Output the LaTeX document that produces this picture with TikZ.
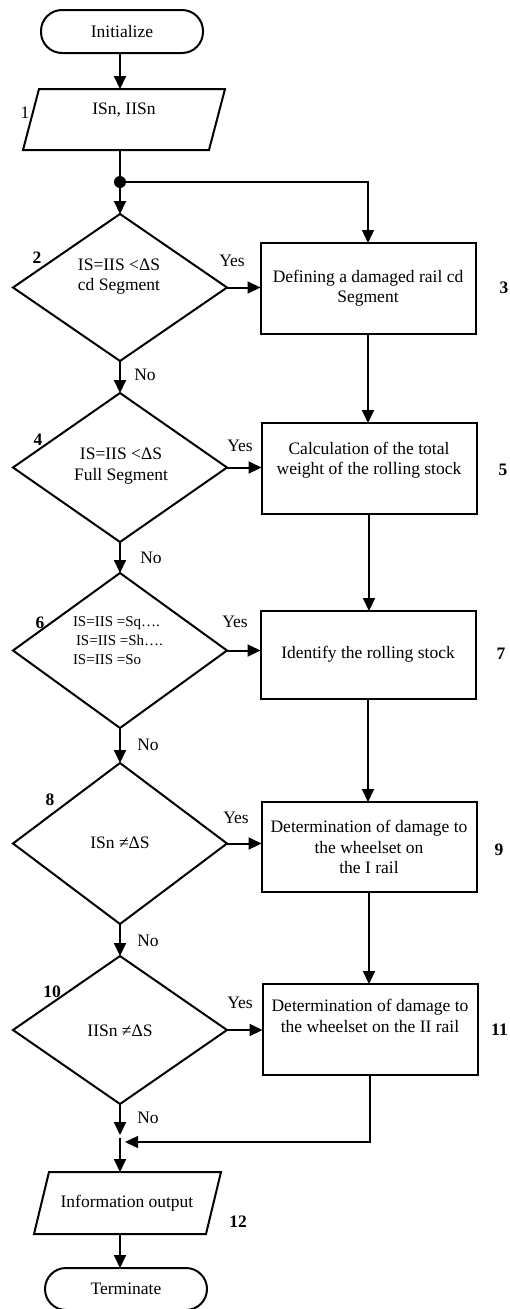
\documentclass[tikz,border=0pt]{standalone}
\usepackage{fontspec}
\setmainfont{Liberation Serif}
\usetikzlibrary{arrows.meta,calc,shapes.geometric}
\begin{document}
\begin{tikzpicture}[x=1pt,y=-1pt,
  every node/.style={font=\fontsize{17.5}{20.5}\selectfont, inner sep=0pt, outer sep=0pt},
  shapeborder/.style={draw, line width=2pt},
  boxnode/.style={shapeborder, rectangle, minimum width=215pt, minimum height=#1},
  decnode/.style={shapeborder, diamond, minimum width=214pt, minimum height=#1},
  termnode/.style={shapeborder, rectangle, rounded corners=21pt, minimum width=162pt, minimum height=#1},
  paranode/.style={rectangle, minimum width=#1},
  txt/.style={align=center},
  numlab/.style={font=\fontsize{17.5}{20.5}\selectfont\bfseries},
  flow/.style={line width=2pt, -{Triangle[length=13pt,width=12pt]}},
  thinflow/.style={line width=1.3pt, -{Triangle[length=13pt,width=12pt]}},
  thinline/.style={line width=1.3pt}
]
\useasboundingbox (0,0) rectangle (509,1309);

% start
\node[termnode=43pt] (init) at (122,31.5) {Initialize};

% input parallelogram
\node[paranode=202pt, minimum height=61pt] (p1) at (124,119.5) {};
\draw[shapeborder] ($(p1.north west)+(16,0)$) -- (p1.north east) -- ($(p1.south east)+(-16,0)$) -- (p1.south west) -- cycle;
\node (p1t) at (124,110) {ISn, IISn};
\node (n1) at (25,113) {1};

\node[circle, fill, minimum size=12pt] (dot) at (120,182) {};

% decisions
\node[decnode=147pt] (d2) at (120,287.5) {};
\node[txt] (d2t) at (119,276.5) {IS=IIS <ΔS\\cd Segment};
\node[numlab] (n2) at (37,258) {2};
\node (y2) at (232,261) {Yes};
\node (no2) at (145,375) {No};

\node[decnode=149pt] (d4) at (120,467.5) {};
\node[txt] (d4t) at (121,466) {IS=IIS <ΔS\\Full Segment};
\node[numlab] (n4) at (38,440) {4};
\node (y4) at (240,446) {Yes};
\node (no4) at (151,558) {No};

\node[decnode=155pt] (d6) at (120,650.5) {};
\node[align=left, anchor=west, font=\fontsize{15}{19}\selectfont] (d6t) at (73,641) {IS=IIS =Sq….\\\hspace*{3pt}IS=IIS =Sh….\\IS=IIS =So};
\node[numlab] (n6) at (40,623) {6};
\node (y6) at (235,622) {Yes};
\node (no6) at (148,745) {No};

\node[decnode=161pt] (d8) at (120,843.5) {};
\node (d8t) at (120,843) {ISn ≠ΔS};
\node[numlab] (n8) at (50,800) {8};
\node (y8) at (236,818) {Yes};
\node (no8) at (148,941) {No};

\node[decnode=148pt] (d10) at (120,1030) {};
\node (d10t) at (120,1031) {IISn ≠ΔS};
\node[numlab] (n10) at (52,992) {10};
\node (y10) at (240,1003) {Yes};
\node (no10) at (148,1118) {No};

% process boxes
\node[boxnode=91pt] (b3) at (368,288.5) {};
\node[txt] (b3t) at (368,288) {Defining a damaged rail cd\\Segment};
\node[numlab] (n3) at (504,288) {3};

\node[boxnode=91pt] (b5) at (369,468.5) {};
\node[txt] (b5t) at (369,460) {Calculation of the total\\weight of the rolling stock};
\node[numlab] (n5) at (503,470) {5};

\node[boxnode=88pt] (b7) at (368,655) {};
\node[txt] (b7t) at (368,654) {Identify the rolling stock};
\node[numlab] (n7) at (501,654) {7};

\node[boxnode=90pt] (b9) at (369,847) {};
\node[txt] (b9t) at (369,847) {Determination of damage to\\the wheelset on\\the I rail};
\node[numlab] (n9) at (499,850) {9};

\node[boxnode=91pt] (b11) at (370,1029.5) {};
\node[txt] (b11t) at (370,1016) {Determination of damage to\\the wheelset on the II rail};
\node[numlab] (n11) at (499.5,1030) {11};

% output parallelogram
\node[paranode=187pt, minimum height=62pt] (p12) at (127.5,1203) {};
\draw[shapeborder] ($(p12.north west)+(15,0)$) -- (p12.north east) -- ($(p12.south east)+(-15,0)$) -- (p12.south west) -- cycle;
\node (p12t) at (127,1203) {Information output};
\node[numlab] (n12) at (238,1222) {12};

\node[termnode=42pt] (term) at (126,1289) {Terminate};

% junction coordinates
\coordinate (j1) at (120,1135);
\coordinate (j2) at (125,1142);
\coordinate (j3) at (120,1138);

% connectors
\draw[flow] (init.south -| dot) -- (p1.north -| dot);
\draw[thinline] (p1.south -| dot) -- (dot);
\draw[flow] (dot) -- (d2.north);
\draw[thinflow] (dot) -- (dot -| b3.north) -- (b3.north);

\draw[flow] (d2.east) -- (d2.east -| b3.west);
\draw[flow] (d4.east) -- (d4.east -| b5.west);
\draw[flow] (d6.east) -- (d6.east -| b7.west);
\draw[flow] (d8.east) -- (d8.east -| b9.west);
\draw[flow] (d10.east) -- (d10.east -| b11.west);

\draw[flow] (d2.south) -- (d4.north);
\draw[flow] (d4.south) -- (d6.north);
\draw[flow] (d6.south) -- (d8.north);
\draw[flow] (d8.south) -- (d10.north);
\draw[flow] (d10.south) -- (j1);

\draw[flow] (b3.south) -- (b3.south |- b5.north);
\draw[flow] (b5.south) -- (b5.south |- b7.north);
\draw[flow] (b7.south) -- (b7.south |- b9.north);
\draw[flow] (b9.south) -- (b9.south |- b11.north);
\draw[thinflow] (b11.south) -- (b11.south |- j2) -- (j2);

\draw[flow] (j3) -- (j3 |- p12.north);
\draw[flow] (p12.south -| dot) -- (term.north -| dot);
\end{tikzpicture}
\end{document}
